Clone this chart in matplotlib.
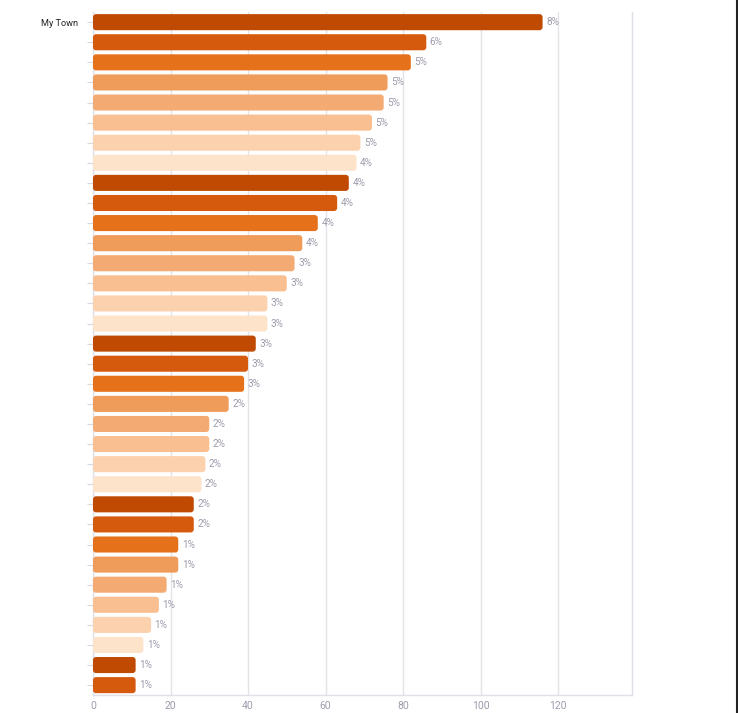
import matplotlib.pyplot as plt
from matplotlib.patches import FancyBboxPatch
from matplotlib.lines import Line2D
import numpy as np

plt.rcParams['font.family'] = ['Roboto', 'DejaVu Sans']

# bar values, top to bottom
values = [116, 86, 82, 76, 75, 72, 69, 68,
          66, 63, 58, 54, 52, 50, 45, 45,
          42, 40, 39, 35, 30, 30, 29, 28,
          26, 26, 22, 22, 19, 17, 15, 13,
          11, 11]
pct_labels = ['8%', '6%', '5%', '5%', '5%', '5%', '5%', '4%',
              '4%', '4%', '4%', '4%', '3%', '3%', '3%', '3%',
              '3%', '3%', '3%', '2%', '2%', '2%', '2%', '2%',
              '2%', '2%', '1%', '1%', '1%', '1%', '1%', '1%',
              '1%', '1%']
names = ['My Town'] + [''] * (len(values) - 1)
palette = ['#c04a02', '#d65a0e', '#e5721b', '#ef9b5a',
           '#f4ab73', '#f9bf90', '#fcd1ae', '#fee3cb']
xticks = [0, 20, 40, 60, 80, 100, 120]

fig = plt.figure(figsize=(7.38, 7.13), dpi=100)
ax = fig.add_axes([0.126, 0.025, 0.73, 0.958])

y = np.arange(len(values))
colors = [palette[i % len(palette)] for i in range(len(values))]
bars = ax.barh(y, values, height=0.8, color=colors)

# swap plain bars for rounded ones
for b in bars:
    x0, y0 = b.get_x(), b.get_y()
    w, h = b.get_width(), b.get_height()
    rb = FancyBboxPatch((x0, y0), w, h,
                        boxstyle='round,pad=0,rounding_size=0.8',
                        mutation_aspect=0.19,
                        facecolor=b.get_facecolor(), edgecolor='none',
                        zorder=3)
    b.remove()
    ax.add_patch(rb)

for yi, v, lab in zip(y, values, pct_labels):
    ax.text(v + 0.9, yi, lab, va='center', ha='left',
            fontsize=7.2, color='#9c9cac', zorder=4)

ax.set_xlim(0, 139)
ax.set_ylim(len(values) - 0.5, -0.5)
ax.set_yticks(y)
ax.set_yticklabels(names, fontsize=6.6, color='#222222')
ax.set_xticks(xticks)
ax.set_xticklabels([str(t) for t in xticks], fontsize=7.5, color='#9c9cac')

ax.grid(axis='x', color='#e3e3ea', linewidth=1)
ax.set_axisbelow(True)
ax.tick_params(axis='y', length=4, color='#d8d8e0', pad=7)
ax.tick_params(axis='x', length=0, pad=4)
ax.spines['top'].set_visible(False)
for s in ['left', 'right', 'bottom']:
    ax.spines[s].set_color('#e0e0e6')
    ax.spines[s].set_linewidth(1)

# dark edge at the right of the picture
fig.add_artist(Line2D([0.999, 0.999], [0, 1], color='#222222',
                      linewidth=1.5, transform=fig.transFigure))

fig.savefig('out.png', dpi=100)
